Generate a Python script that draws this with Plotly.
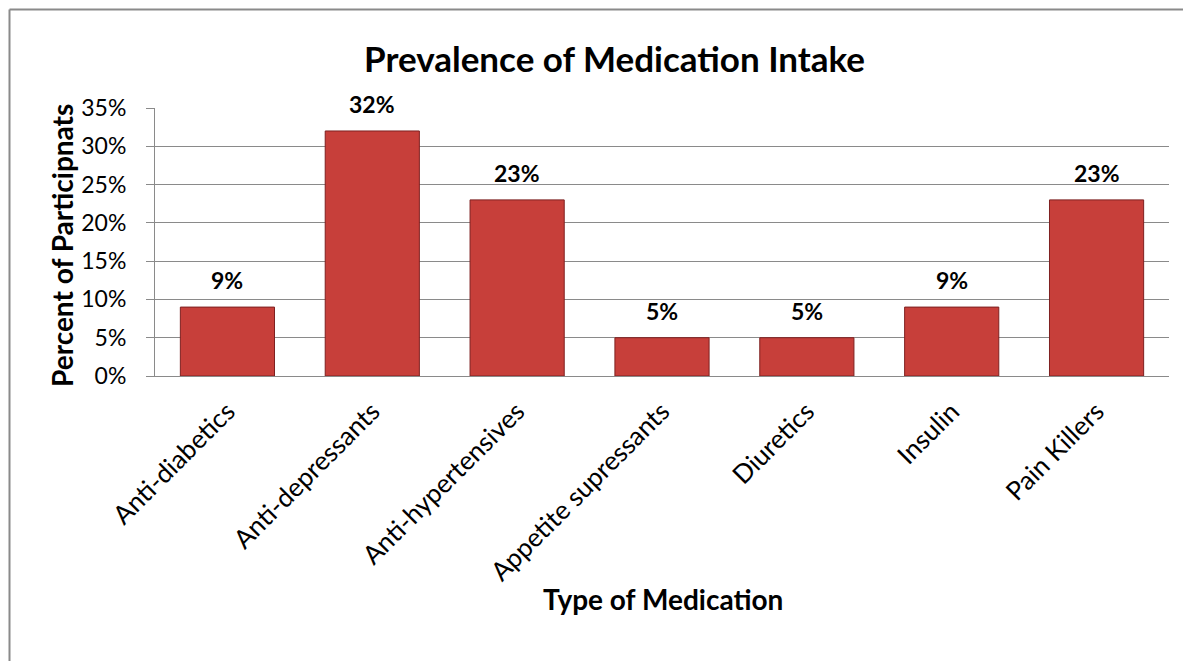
import plotly.graph_objects as go

categories = ["Anti-diabetics", "Anti-depressants", "Anti-hypertensives",
              "Appetite supressants", "Diuretics", "Insulin", "Pain Killers"]
values = [0.09, 0.32, 0.23, 0.05, 0.05, 0.09, 0.23]
labels = ["9%", "32%", "23%", "5%", "5%", "9%", "23%"]
ytick_vals = [0, 0.05, 0.10, 0.15, 0.20, 0.25, 0.30, 0.35]
ytick_text = ["0%", "5%", "10%", "15%", "20%", "25%", "30%", "35%"]

FONT = "Lato"
GRID = "#8A8A8A"

# figure sized so that with the 8px page margin nothing overflows the window
FW, FH, OFF = 1175, 653, 8
# plot area in screen pixels
PL, PR, PT, PB = 155, 1169, 108, 376
PW, PH = PR - PL, PB - PT


def px(x):
    return (x - PL) / PW


def py(y):
    return (PB - y) / PH


fig = go.Figure()
fig.add_trace(go.Bar(
    x=categories, y=values,
    marker=dict(color="#C73F3A", line=dict(color="#7E2020", width=1)),
    width=0.65,
))

for c, v, t in zip(categories, values, labels):
    fig.add_annotation(x=c, y=v, text="<b>%s</b>" % t, showarrow=False,
                       yanchor="middle", yshift=27,
                       font=dict(family=FONT, size=23, color="black"))

fig.update_layout(
    width=FW, height=FH,
    margin=dict(l=PL - OFF, r=FW - (PR - OFF), t=PT - OFF, b=FH - (PB - OFF)),
    paper_bgcolor="white", plot_bgcolor="white",
    showlegend=False,
    font=dict(family=FONT, color="black"),
)
fig.update_yaxes(
    range=[0, 0.35], tickvals=ytick_vals, ticktext=ytick_text,
    showgrid=True, gridcolor=GRID, gridwidth=1,
    showline=True, linecolor=GRID, linewidth=1,
    ticks="outside", ticklen=8, tickcolor=GRID,
    tickfont=dict(family=FONT, size=23, color="black"),
    ticklabelstandoff=15,
    zeroline=False,
)
fig.update_xaxes(
    tickangle=-45, showline=True, linecolor=GRID, linewidth=1,
    tickfont=dict(family=FONT, size=26, color="black"),
    ticklabelstandoff=9,
    showgrid=False,
)

# Titles
fig.add_annotation(text="<b>Prevalence of Medication Intake</b>", xref="paper", yref="paper",
                   x=px(614), y=py(58), showarrow=False,
                   xanchor="center", yanchor="middle",
                   font=dict(family=FONT, size=35, color="black"))
fig.add_annotation(text="<b>Percent of Participnats</b>", xref="paper", yref="paper",
                   x=px(62), y=py(246), showarrow=False,
                   textangle=-90, xanchor="center", yanchor="middle",
                   font=dict(family=FONT, size=28, color="black"))
fig.add_annotation(text="<b>Type of Medication</b>", xref="paper", yref="paper",
                   x=px(663), y=py(599), showarrow=False,
                   xanchor="center", yanchor="middle",
                   font=dict(family=FONT, size=28, color="black"))

# Outer chart border: only its top and left edges fall inside the page
fig.add_shape(type="line", xref="paper", yref="paper",
              x0=px(9.5), x1=px(1190), y0=py(9.5), y1=py(9.5),
              line=dict(color=GRID, width=2), layer="below")
fig.add_shape(type="line", xref="paper", yref="paper",
              x0=px(9.5), x1=px(9.5), y0=py(9.5), y1=py(668),
              line=dict(color=GRID, width=2), layer="below")

fig.write_html("out.html")
